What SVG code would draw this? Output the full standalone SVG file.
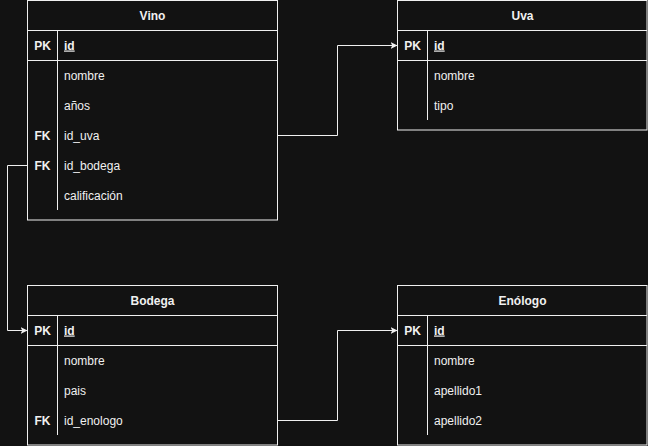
<svg xmlns="http://www.w3.org/2000/svg" width="648" height="446" viewBox="0 0 648 446">
<style>
.box{fill:#121212;stroke:#f0f0f0;stroke-width:1}
.ln{stroke:#f0f0f0;stroke-width:1;fill:none}
.t{font-family:"Liberation Sans",Arial,sans-serif;font-size:12px;fill:#f0f0f0}
.h{font-weight:bold;text-anchor:middle}
.k{font-weight:bold;text-anchor:middle}
.u{font-weight:bold;text-decoration:underline}
.c{stroke:#f0f0f0;stroke-width:1;fill:none;marker-end:url(#arr)}
</style>
<defs>
<marker id="arr" viewBox="0 0 10 10" refX="10" refY="5" markerWidth="7" markerHeight="7" markerUnits="userSpaceOnUse" orient="auto">
<path d="M0,0 L10,5 L0,10 L2.5,5 Z" fill="#f0f0f0"/>
</marker>
</defs>
<rect x="0" y="0" width="648" height="446" fill="#121212"/>
<g id="connectors">
<path class="c" d="M277.5,135.5 H337.5 V45.5 H397.5"/>
<path class="c" d="M27.5,165.5 H7.5 V330.5 H27.5"/>
<path class="c" d="M277.5,420.5 H337.5 V330.5 H397.5"/>
</g>
<g id="vino">
<rect class="box" x="27.5" y="0.5" width="250" height="219.5"/>
<line class="ln" x1="27.5" y1="30.5" x2="277.5" y2="30.5"/>
<line class="ln" x1="27.5" y1="60.5" x2="277.5" y2="60.5"/>
<line class="ln" x1="57.5" y1="30.5" x2="57.5" y2="210"/>
<text class="t h" x="152.5" y="19.5">Vino</text>
<text class="t k" x="42.5" y="49.5">PK</text>
<text class="t u" x="64" y="49.5">id</text>
<text class="t" x="64" y="79.5">nombre</text>
<text class="t" x="64" y="109.5">años</text>
<text class="t k" x="42.5" y="139.5">FK</text>
<text class="t" x="64" y="139.5">id_uva</text>
<text class="t k" x="42.5" y="169.5">FK</text>
<text class="t" x="64" y="169.5">id_bodega</text>
<text class="t" x="64" y="199.5">calificación</text>
</g>
<g id="uva">
<rect class="box" x="397.5" y="0.5" width="249.5" height="129.5"/>
<line class="ln" x1="397.5" y1="30.5" x2="647" y2="30.5"/>
<line class="ln" x1="397.5" y1="60.5" x2="647" y2="60.5"/>
<line class="ln" x1="427.5" y1="30.5" x2="427.5" y2="120"/>
<text class="t h" x="522.5" y="19.5">Uva</text>
<text class="t k" x="412.5" y="49.5">PK</text>
<text class="t u" x="434" y="49.5">id</text>
<text class="t" x="434" y="79.5">nombre</text>
<text class="t" x="434" y="109.5">tipo</text>
</g>
<g id="bodega">
<rect class="box" x="27.5" y="285.5" width="250" height="159.5"/>
<line class="ln" x1="27.5" y1="315.5" x2="277.5" y2="315.5"/>
<line class="ln" x1="27.5" y1="345.5" x2="277.5" y2="345.5"/>
<line class="ln" x1="57.5" y1="315.5" x2="57.5" y2="435"/>
<text class="t h" x="152.5" y="304.5">Bodega</text>
<text class="t k" x="42.5" y="334.5">PK</text>
<text class="t u" x="64" y="334.5">id</text>
<text class="t" x="64" y="364.5">nombre</text>
<text class="t" x="64" y="394.5">pais</text>
<text class="t k" x="42.5" y="424.5">FK</text>
<text class="t" x="64" y="424.5">id_enologo</text>
</g>
<g id="enologo">
<rect class="box" x="397.5" y="285.5" width="249.5" height="159.5"/>
<line class="ln" x1="397.5" y1="315.5" x2="647" y2="315.5"/>
<line class="ln" x1="397.5" y1="345.5" x2="647" y2="345.5"/>
<line class="ln" x1="427.5" y1="315.5" x2="427.5" y2="435"/>
<text class="t h" x="522.5" y="304.5">Enólogo</text>
<text class="t k" x="412.5" y="334.5">PK</text>
<text class="t u" x="434" y="334.5">id</text>
<text class="t" x="434" y="364.5">nombre</text>
<text class="t" x="434" y="394.5">apellido1</text>
<text class="t" x="434" y="424.5">apellido2</text>
</g>
</svg>
